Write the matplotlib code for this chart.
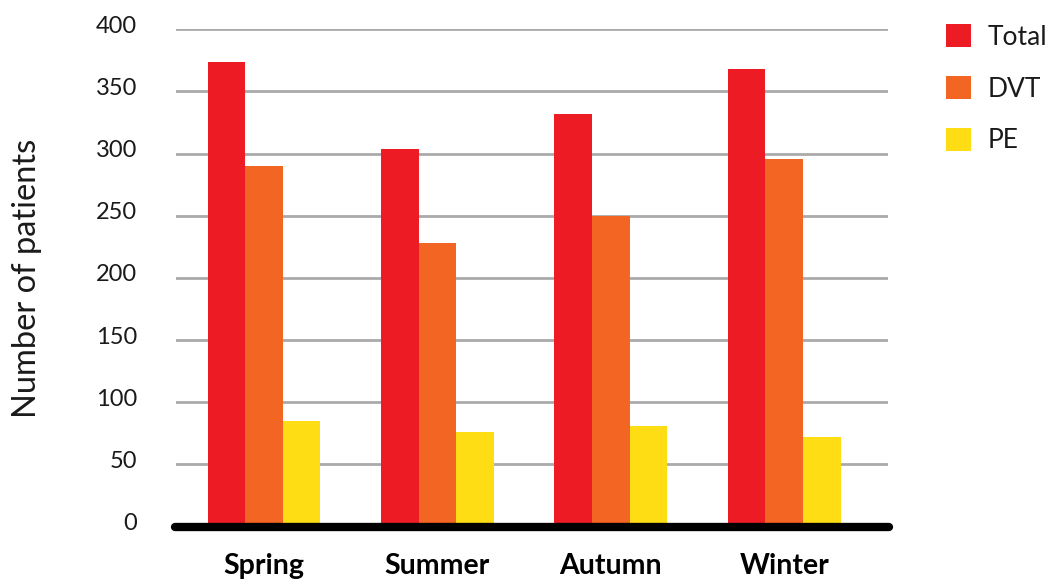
import numpy as np
import matplotlib
matplotlib.use("Agg")
import matplotlib.pyplot as plt
import matplotlib.transforms as mtransforms
from matplotlib.patches import Patch
from matplotlib import rcParams

rcParams['font.family'] = 'sans-serif'
rcParams['font.sans-serif'] = ['Lato', 'DejaVu Sans']

seasons = ["Spring", "Summer", "Autumn", "Winter"]
series_names = ["Total", "DVT", "PE"]
total = [374, 304, 332, 368]
dvt = [290, 228, 250, 296]
pe = [85, 76, 81, 72]
colors = ["#ED1C24", "#F26522", "#FFDD15"]
yticks = [0, 50, 100, 150, 200, 250, 300, 350, 400]

fig = plt.figure(figsize=(10.48, 5.8), dpi=100)
ax = fig.add_axes([0.168, 0.0922, 0.679, 0.8573])

x = np.arange(len(seasons))
w = 0.217
for i, (vals, col) in enumerate(zip([total, dvt, pe], colors)):
    ax.bar(x + (i - 1) * w, vals, width=w, color=col, linewidth=0, zorder=2)

ax.set_xlim(-0.507, 3.597)
ax.set_ylim(0, 400)
ax.set_yticks(yticks)
ax.set_xticks(x)
ax.set_xticklabels(seasons, fontsize=20.5, fontweight="bold")
ax.tick_params(axis="y", length=0, pad=28, labelsize=17, labelcolor="#1a1a1a")
ax.tick_params(axis="x", length=0, pad=19)
# numbers sit a little above their gridlines
shift = mtransforms.ScaledTranslation(0, 0.05, fig.dpi_scale_trans)
for t in ax.get_yticklabels():
    t.set_transform(t.get_transform() + shift)
ax.set_axisbelow(True)
ax.yaxis.grid(True, color="#AAAAAA", linewidth=2)
for s in ax.spines.values():
    s.set_visible(False)

ax.plot([-0.515, 3.605], [0, 0], color="black", linewidth=6,
        solid_capstyle="round", clip_on=False, zorder=3)

ax.set_ylabel("Number of patients", fontsize=23.5, color="#1a1a1a", labelpad=39)

handles = [Patch(facecolor=c, edgecolor="none") for c in colors]
leg = fig.legend(handles, series_names, loc="upper left",
                 bbox_to_anchor=(0.9027, 0.958), frameon=False, fontsize=19,
                 handlelength=0.95, handleheight=0.95, handletextpad=0.62,
                 labelspacing=1.0, borderaxespad=0, borderpad=0)
for t in leg.get_texts():
    t.set_color("#1a1a1a")

fig.savefig("out.png", dpi=100)
